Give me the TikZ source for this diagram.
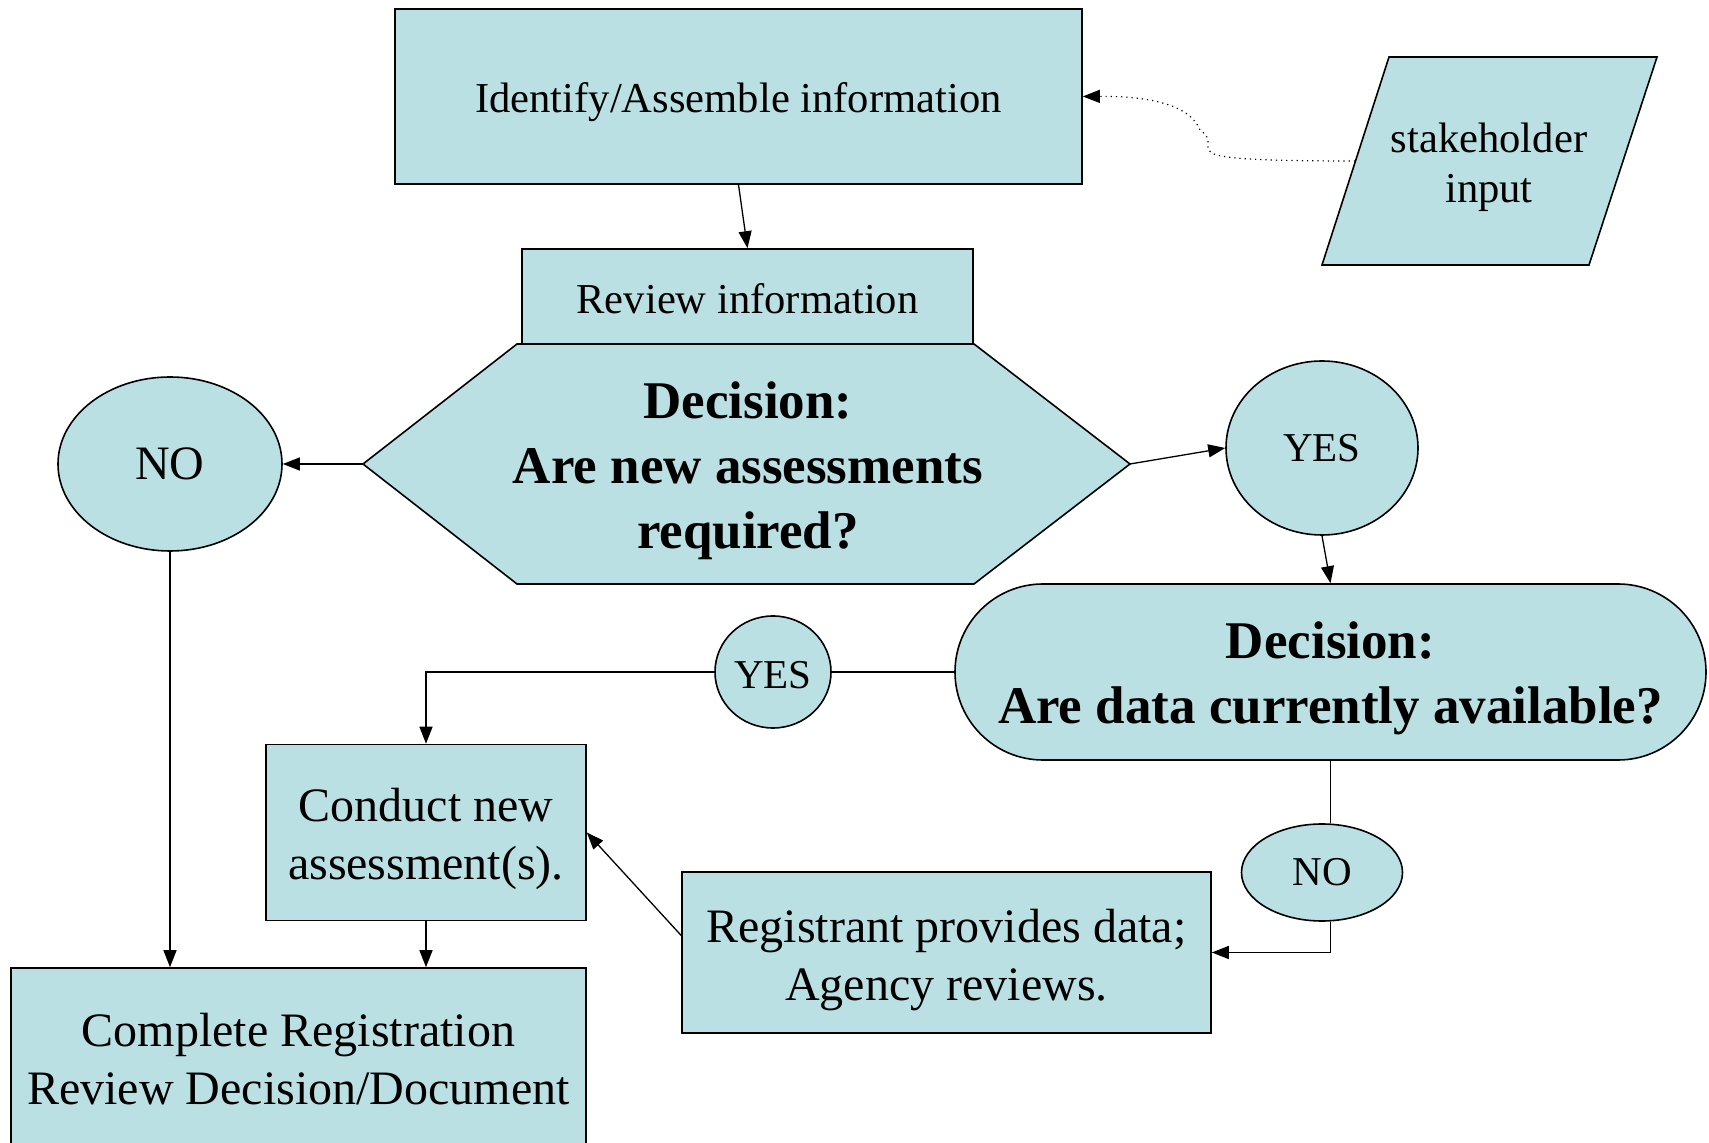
\documentclass[tikz,border=0pt]{standalone}
\usepackage{fontspec}
\setmainfont{Liberation Serif}
\usetikzlibrary{shapes.geometric,arrows.meta,calc}
\definecolor{boxfill}{RGB}{187,224,227}
\tikzset{
  x=0.5pt, y=-0.5pt,
  shapebox/.style={draw=black, line width=0.8pt, fill=boxfill, inner sep=0pt, align=center},
  rectbox/.style={shapebox, rectangle},
  ovalbox/.style={shapebox, ellipse},
  txtA/.style={font=\fontsize{21.3pt}{25pt}\selectfont},
  txtB/.style={font=\fontsize{24pt}{29pt}\selectfont},
  txtC/.style={font=\fontsize{26.5pt}{32.5pt}\selectfont\bfseries},
  txtYN/.style={font=\fontsize{20.5pt}{24pt}\selectfont},
  conn/.style={line width=0.65pt, -{Triangle[length=8.5pt,width=6.5pt]}},
  plainconn/.style={line width=0.65pt},
}
\begin{document}
\begin{tikzpicture}
\useasboundingbox (0,0) rectangle (1709,1143);
\clip (0,0) rectangle (1709,1143);

% Identify box
\node[shapebox, minimum width=343.5pt, minimum height=87.5pt] (ident) at (738.5,96.5) {};
\node[txtA] (identtxt) at (738.5,102) {Identify/Assemble information};

% stakeholder parallelogram
\draw[line width=0.8pt, fill=boxfill] (1389,57) -- (1657,57) -- (1589,265) -- (1322,265) -- cycle;
\node[txtA, align=center] (stake) at (1489,167) {stakeholder\\input};
\coordinate (stakeL) at (1355,161);

% Review box
\node[shapebox, minimum width=225.5pt, minimum height=47.5pt] (review) at (747.5,296.5) {};
\node[txtA] (reviewtxt) at (747.5,299) {Review information};

% Hexagon decision
\draw[line width=0.8pt, fill=boxfill] (363,464) -- (517,344) -- (974,344) -- (1130,464) -- (974,584) -- (517,584) -- cycle;
\node[txtC, align=center] (dec1) at (748,471) {Decision:\\Are new assessments\\required?};
\coordinate (dec1L) at (363,464);
\coordinate (dec1R) at (1130,464);

% NO left ellipse
\node[ovalbox, txtB, minimum width=112pt, minimum height=87pt] (noL) at (170,464) {NO};

% YES right ellipse
\node[ovalbox, txtYN, minimum width=96pt, minimum height=87pt] (yesR) at (1322,448) {YES};

% Decision 2 stadium
\node[shapebox, rounded corners=44pt, minimum width=375.5pt, minimum height=88pt] (dec2) at (1330.5,672) {};
\node[txtC, align=center] (dec2txt) at (1330.5,678) {Decision:\\Are data currently available?};

% YES small ellipse
\node[ovalbox, minimum width=58pt, minimum height=56pt] (yesS) at (773,672) {};
\node[txtYN] (yesStxt) at (773,675) {YES};

% Conduct box
\node[shapebox, minimum width=160pt, minimum height=88pt] (conduct) at (426,832.5) {};
\node[txtB, align=center] (conducttxt) at (426,839) {Conduct new\\assessment(s).};

% Complete box
\node[shapebox, minimum width=287.5pt, minimum height=100pt] (complete) at (298.5,1068) {};
\node[txtB, align=center] (completetxt) at (298.5,1059) {Complete Registration\\Review Decision/Document};

% NO small ellipse
\node[ovalbox, txtYN, minimum width=80.5pt, minimum height=48.5pt] (noS) at (1322,872.5) {NO};

% Registrant box
\node[shapebox, minimum width=264.5pt, minimum height=80.5pt] (reg) at (946.5,952.5) {};
\node[txtB, align=center] (regtxt) at (946.5,960) {Registrant provides data;\\Agency reviews.};

% Connectors
\draw[line width=0.6pt, dotted, -{Triangle[length=8.5pt,width=6.5pt]}] (stakeL) .. controls (1150,161) and (1230,150) .. (1200,130) .. controls (1190,105) and (1150,96) .. (ident.east);
\draw[conn] (ident.south) -- (review.north);
\draw[conn] (dec1L) -- (noL.east);
\draw[conn] (dec1R) -- (yesR.west);
\draw[conn] (yesR.south) -- (dec2.north);
\draw[plainconn] (dec2.west) -- (yesS.east);
\draw[conn] (yesS.west) -| (conduct.north);
\draw[conn] (noL.south) -- (noL.south |- complete.north);
\draw[conn] (conduct.south) -- (conduct.south |- complete.north);
\draw[plainconn] (dec2.south) -- (dec2.south |- noS.north);
\draw[conn] (dec2.south |- noS.south) |- (reg.east);
\draw[conn] ($(reg.west)+(0,-17)$) -- (conduct.east);
\end{tikzpicture}
\end{document}
